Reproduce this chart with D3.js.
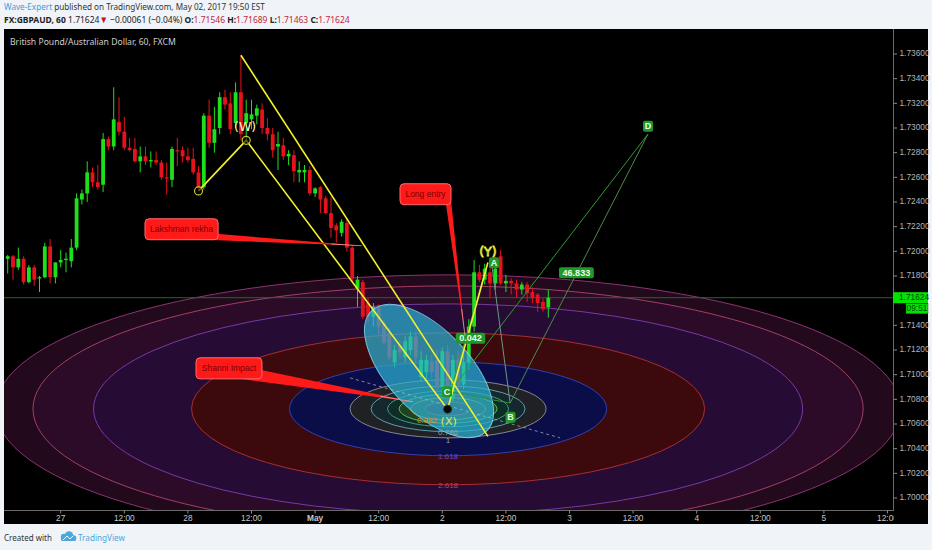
<!DOCTYPE html>
<html><head><meta charset="utf-8">
<script src="https://cdn.jsdelivr.net/npm/d3@7"></script>
<style>html,body{margin:0;padding:0;background:#f0f3f7;} svg{display:block}</style>
</head><body>
<svg id="c" width="932" height="550"></svg>
<script>
// ---------------- DATA ----------------
const firstBar = -10; // hourly bars, index 0 = Apr 27 00:00
const opens = [1.7194,1.7196,1.7187,1.7194,1.7175,1.7187,1.7178,1.7179,1.7204,1.7179,
1.7191,1.7193,1.7192,1.7203,1.7242,1.7247,1.7264,1.7256,1.7254,1.7291,
1.7285,1.7305,1.7297,1.7284,1.7283,1.7273,1.7277,1.7273,1.7274,1.7272,
1.7260,1.7258,1.7282,1.7282,1.7277,1.7275,1.7264,1.7252,1.7310,1.7288,
1.7300,1.7325,1.7320,1.7304,1.7329,1.7304,1.7307,1.7310,1.7315,1.7300,
1.7295,1.7285,1.7286,1.7277,1.7278,1.7264,1.7264,1.7266,1.7247,1.7252,
1.7243,1.7231,1.7221,1.7215,1.7223,1.7203,1.7170,1.7175,1.7158,1.7147,
1.7155,1.7142,1.7134,1.7110,1.7124,1.7114,1.7120,1.7131,1.7098,1.7102,
1.7110,1.7112,1.7090,1.7119,1.7081,1.7112,1.7092,1.7110,1.7139,1.7183,
1.7177,1.7183,1.7174,1.7196,1.7174,1.7176,1.7174,1.7169,1.7173,1.7167,
1.7165,1.7159,1.71546];
const highs = [1.7197,1.7197,1.7203,1.7196,1.7189,1.7189,1.7180,1.7207,1.7210,1.7191,
1.7201,1.7199,1.7210,1.7247,1.7250,1.7273,1.7268,1.7270,1.7296,1.7293,
1.7333,1.7325,1.7309,1.7292,1.7292,1.7285,1.7285,1.7281,1.7281,1.7274,
1.7272,1.7285,1.7292,1.7285,1.7284,1.7284,1.7269,1.7312,1.7323,1.7317,
1.7329,1.7331,1.7329,1.7337,1.7359,1.7323,1.7323,1.7319,1.7320,1.7308,
1.7300,1.7297,1.7292,1.7282,1.7282,1.7273,1.7270,1.7269,1.7252,1.7253,
1.7245,1.7244,1.7223,1.7226,1.7227,1.7205,1.7180,1.7177,1.7162,1.7158,
1.7157,1.7144,1.7138,1.7124,1.7128,1.7131,1.7135,1.7136,1.7119,1.7116,
1.7116,1.7120,1.7122,1.7124,1.7116,1.7119,1.7116,1.7145,1.7193,1.7189,
1.7190,1.7191,1.7195,1.7201,1.7181,1.7178,1.7177,1.7175,1.7175,1.7171,
1.7166,1.7162,1.71689];
const lows = [1.7182,1.7177,1.7185,1.7173,1.7174,1.7172,1.7167,1.7178,1.7174,1.7174,
1.7187,1.7183,1.7187,1.7201,1.7238,1.7240,1.7252,1.7250,1.7248,1.7282,
1.7282,1.7294,1.7282,1.7281,1.7272,1.7264,1.7270,1.7268,1.7270,1.7258,
1.7246,1.7252,1.7269,1.7272,1.7272,1.7262,1.7249,1.7250,1.7284,1.7280,
1.7295,1.7315,1.7295,1.7300,1.7290,1.7290,1.7299,1.7303,1.7295,1.7290,
1.7276,1.7266,1.7274,1.7270,1.7256,1.7256,1.7256,1.7245,1.7244,1.7231,
1.7230,1.7211,1.7207,1.7212,1.7200,1.7175,1.7155,1.7145,1.7142,1.7139,
1.7132,1.7124,1.7112,1.7106,1.7114,1.7110,1.7116,1.7110,1.7094,1.7096,
1.7097,1.7086,1.7084,1.7072,1.7078,1.7082,1.7088,1.7104,1.7135,1.7175,
1.7173,1.7162,1.7169,1.7173,1.7167,1.7165,1.7162,1.7165,1.7159,1.7158,
1.7151,1.7151,1.71463];
const closes = [1.7196,1.7187,1.7194,1.7175,1.7187,1.7177,1.7179,1.7204,1.7179,1.7191,
1.7193,1.7194,1.7203,1.7243,1.7247,1.7264,1.7256,1.7252,1.7291,1.7285,
1.7307,1.7297,1.7284,1.7282,1.7273,1.7277,1.7273,1.7274,1.7272,1.7260,
1.7259,1.7283,1.7281,1.7277,1.7274,1.7264,1.7252,1.7310,1.7288,1.7299,
1.7325,1.7319,1.7299,1.7329,1.7295,1.7312,1.7311,1.7316,1.7300,1.7295,
1.7282,1.7287,1.7277,1.7279,1.7265,1.7266,1.7266,1.7247,1.7251,1.7242,
1.7231,1.7219,1.7217,1.7224,1.7203,1.7178,1.7177,1.7147,1.7147,1.7155,
1.7139,1.7126,1.7114,1.7120,1.7118,1.7127,1.7131,1.7114,1.7112,1.7112,
1.7102,1.7089,1.7119,1.7081,1.7112,1.7092,1.7110,1.7139,1.7183,1.7177,
1.7186,1.7174,1.7186,1.7174,1.7176,1.7174,1.7169,1.7173,1.7166,1.7162,
1.7158,1.7153,1.71624];

const timeTickBars = [0,12,24,36,48,60,72,84,96,108,120,132,144,156];
const timeTickLabels = ["27","12:00","28","12:00","May","12:00","2","12:00","3","12:00","4","12:00","5","12:00"];
const priceTicks = [1.700,1.702,1.704,1.706,1.708,1.710,1.712,1.714,1.718,1.720,1.722,1.724,1.726,1.728,1.730,1.732,1.734,1.736];

const lastPrice = 1.71624;
const countdown = "09:51";

// Fib circles (centre, unit radius in bars / price)
const ringCenter = [73.09, 1.70723];
const ringUnit = [18.49, 0.002352];
const ringLevels = [4.618, 4.236, 3.618, 2.618, 1.618, 1, 0.786, 0.618, 0.5, 0.382, 0.236];
const ringFills  = ['#220a1c','#2b0b27','#260c34','#3c0a0c','#0b0d48','#202124','#14282d','#0f2d27','#1f4222','#313d1b','#3d2624'];
const ringStrokes= ['#a03c80','#b84872','#8442b8','#bc3436','#3249c8','#9a9a9a','#6fb0c0','#40b090','#60d060','#c8a040','#c05040'];
const ringLabelLevels = [2.618, 1.618, 1, 0.786, 0.382];
const ringLabelTexts  = ['2.618','1.618','1','0.786','0.382'];
const ringLabelColors = ['#c0405c','#5a4ad4','#9a9a9a','#7fa4b4','#e0902a'];

// Cyan ellipse (centre, end of major axis, minor/major ratio)
const cyanCenter = [69.5, 1.71030];
const cyanMajorEnd = [80.3, 1.70540];
const cyanRatio = 0.49;

// Yellow wave lines
const wavePath = [[26,1.7249],[35,1.7290],[73,1.7072],[80.6,1.7191]];
const channelLine = [[34,1.7359],[80.6,1.7050]];
const wavePivots = [[26,1.7249],[35,1.7290]];
const xPivot = [73,1.7072];
const waveLabelTexts = ['(W)','(Y)','(X)'];
const waveLabelPos = [[34.8,1.73002],[80.6,1.71990],[73.2,1.70618]];

// green pattern
const patternLines = [
  [[73.1,1.7084],[110.8,1.7295]],
  [[84.8,1.7077],[110.8,1.7295]],
  [[81.4,1.7187],[84.8,1.7077]],
  [[73.45,1.7085],[80.4,1.7188]],
  [[84.8,1.7077],[73.3,1.7086]]
];
const patternColors = ['#2e9a30','#4f8a4f','#6a9a80','#3aa03a','#3a8a3a'];
const patternLabelTexts = ['A','B','C','D','0.042','46.833'];
const patternLabelPos = [[81.75,1.71907],[84.87,1.70654],[72.89,1.70861],[110.81,1.73014],[77.32,1.71295],[97.3,1.71826]];
const dashedLine = [[54.6,1.70974],[94.2,1.70488]];

// red callouts: box corners, wedge base points, tip
const calloutTexts = ['Lakshman rekha','Long entry','Shanni Impact'];
const calloutBoxes = [[[15.9,1.72264],[29.7,1.72094]],[[64.02,1.72548],[73.64,1.72378]],[[25.53,1.71137],[37.98,1.70966]]];
const calloutBases = [[[27.2,1.72094],[29.3,1.72142]],[[72.7,1.72378],[73.64,1.72418]],[[33.8,1.70966],[37.6,1.71039]]];
const calloutTips = [[56.8,1.72045],[76.28,1.71315],[66.47,1.70780]];

// ---------------- DRAW ----------------
const svg = d3.select('#c');
const x = d3.scaleLinear().domain([-10.7, 157.04]).range([4, 893]);
const y = d3.scaleLinear().domain([1.700, 1.736]).range([498, 54]);
const P = p => [x(p[0]), y(p[1])];

svg.append('rect').attr('width',932).attr('height',550).attr('fill','#f0f3f7');
svg.append('rect').attr('x',4).attr('y',29).attr('width',924).attr('height',495).attr('fill','#000');
const defs = svg.append('defs');
defs.append('clipPath').attr('id','pc').append('rect').attr('x',4).attr('y',29).attr('width',889).attr('height',481);
const plot = svg.append('g').attr('clip-path','url(#pc)');

// rings
const rcx = x(ringCenter[0]), rcy = y(ringCenter[1]);
const urx = x(ringCenter[0]+ringUnit[0]) - rcx, ury = y(ringCenter[1]-ringUnit[1]) - rcy;
ringLevels.forEach((lv,i)=>{
  plot.append('ellipse').attr('cx',rcx).attr('cy',rcy).attr('rx',urx*lv).attr('ry',ury*lv).attr('fill',ringFills[i]);
});
ringLevels.forEach((lv,i)=>{
  plot.append('ellipse').attr('cx',rcx).attr('cy',rcy).attr('rx',urx*lv).attr('ry',ury*lv)
    .attr('fill','none').attr('stroke',ringStrokes[i]).attr('stroke-width',1).attr('stroke-opacity',0.85);
});

// last price line
plot.append('line').attr('x1',4).attr('x2',893).attr('y1',y(lastPrice)).attr('y2',y(lastPrice))
  .attr('stroke','#1f6a28').attr('stroke-width',1);

// candles
const bars = opens.map((o,i)=>({i:firstBar+i,o,h:highs[i],l:lows[i],c:closes[i]}));
const cg = plot.append('g');
bars.forEach(b=>{
  const col = b.c >= b.o ? '#1de01d' : '#e8121c';
  const bx = x(b.i);
  cg.append('line').attr('x1',bx).attr('x2',bx).attr('y1',y(b.h)).attr('y2',y(b.l)).attr('stroke',col).attr('stroke-width',1);
  const top = y(Math.max(b.o,b.c)), bot = y(Math.min(b.o,b.c));
  cg.append('rect').attr('x',bx-1.9).attr('width',3.8).attr('y',top).attr('height',Math.max(1,bot-top)).attr('fill',col);
});

// cyan ellipse
{
  const [ecx,ecy] = P(cyanCenter), [mx,my] = P(cyanMajorEnd);
  const a = Math.hypot(mx-ecx,my-ecy), ang = Math.atan2(my-ecy,mx-ecx)*180/Math.PI;
  plot.append('ellipse').attr('cx',ecx).attr('cy',ecy).attr('rx',a).attr('ry',a*cyanRatio)
    .attr('transform',`rotate(${ang},${ecx},${ecy})`)
    .attr('fill','rgba(45,178,212,0.72)').attr('stroke','rgba(130,215,240,0.85)').attr('stroke-width',1);
}

// dashed line
plot.append('line').attr('x1',x(dashedLine[0][0])).attr('y1',y(dashedLine[0][1])).attr('x2',x(dashedLine[1][0])).attr('y2',y(dashedLine[1][1]))
  .attr('stroke','#b0b8c8').attr('stroke-opacity',0.7).attr('stroke-dasharray','3,3');

// green pattern lines
patternLines.forEach((l,i)=>{
  plot.append('line').attr('x1',x(l[0][0])).attr('y1',y(l[0][1])).attr('x2',x(l[1][0])).attr('y2',y(l[1][1]))
   .attr('stroke',patternColors[i]).attr('stroke-width',1);
});

// yellow lines
const line = d3.line().x(d=>x(d[0])).y(d=>y(d[1]));
plot.append('path').attr('d',line(wavePath)).attr('fill','none').attr('stroke','#f2f22c').attr('stroke-width',1.6);
plot.append('path').attr('d',line(channelLine)).attr('fill','none').attr('stroke','#f2f22c').attr('stroke-width',1.6);
wavePivots.forEach(p=>{
  plot.append('circle').attr('cx',x(p[0])).attr('cy',y(p[1])).attr('r',4).attr('fill','#000').attr('fill-opacity',0.6).attr('stroke','#c8c82a').attr('stroke-width',1.2);
});
plot.append('circle').attr('cx',x(xPivot[0])).attr('cy',y(xPivot[1])).attr('r',4).attr('fill','#080808').attr('stroke','#303020').attr('stroke-width',1);

// ring labels
ringLabelLevels.forEach((lv,i)=>{
  const t = plot.append('text').attr('y',rcy+ury*lv+(lv===1?3:1)).attr('dominant-baseline','middle')
   .attr('font-family','Liberation Sans, Arial, sans-serif').attr('font-size',8).attr('fill',ringLabelColors[i]).text(ringLabelTexts[i]);
  if (lv===0.382) t.attr('x',rcx-11).attr('text-anchor','end');
  else t.attr('x',rcx).attr('text-anchor','middle');
});

// wave labels
waveLabelTexts.forEach((t,i)=>{
  const [lx,ly] = P(waveLabelPos[i]);
  const tx = plot.append('text').attr('x',lx).attr('y',ly).attr('text-anchor','middle').attr('dominant-baseline','middle')
    .attr('font-family','DejaVu Sans, sans-serif').attr('font-size',i===2?11:12.5).text(t);
  if (i===0) tx.attr('fill','#fffbb8');
  else if (i===1) tx.attr('fill','none').attr('stroke','#f0f040').attr('stroke-width',0.9);
  else tx.attr('fill','#e4e450');
});

// pattern labels
patternLabelTexts.forEach((t,i)=>{
  const [lx,ly] = P(patternLabelPos[i]);
  const w = t.length===1 ? 10 : t.length*5.3+3;
  plot.append('rect').attr('x',lx-w/2).attr('y',ly-5.5).attr('width',w).attr('height',11).attr('rx',2)
    .attr('fill','#1f9a28');
  plot.append('text').attr('x',lx).attr('y',ly+0.5).attr('text-anchor','middle').attr('dominant-baseline','middle')
    .attr('font-family','Liberation Sans, Arial, sans-serif').attr('font-size',9).attr('font-weight','bold').attr('fill','#eaffea').text(t);
});

// callouts
calloutTexts.forEach((t,i)=>{
  const [b0,b1] = calloutBoxes[i];
  const x0=x(b0[0]), y0=y(b0[1]), x1=x(b1[0]), y1=y(b1[1]);
  const base = calloutBases[i].map(P), tip = P(calloutTips[i]);
  plot.append('path').attr('d',`M${base[0][0]},${base[0][1]}L${base[1][0]},${base[1][1]}L${tip[0]},${tip[1]}Z`).attr('fill','#ff1a1a');
  const mid=[(base[0][0]+base[1][0])/2,(base[0][1]+base[1][1])/2];
  plot.append('line').attr('x1',mid[0]+(tip[0]-mid[0])*0.8).attr('y1',mid[1]+(tip[1]-mid[1])*0.8).attr('x2',tip[0]).attr('y2',tip[1])
    .attr('stroke','#f4c8c8').attr('stroke-width',0.8).attr('stroke-opacity',0.8);
  plot.append('rect').attr('x',x0).attr('y',y0).attr('width',x1-x0).attr('height',y1-y0).attr('rx',4)
    .attr('fill','#ff1a1a').attr('stroke','#ff6a6a').attr('stroke-width',1);
  plot.append('text').attr('x',(x0+x1)/2).attr('y',(y0+y1)/2+0.5).attr('text-anchor','middle').attr('dominant-baseline','middle')
    .attr('font-family','Liberation Sans, Arial, sans-serif').attr('font-size',8.5).attr('fill','#7a0000').text(t);
});

// axes frame
svg.append('line').attr('x1',893.5).attr('x2',893.5).attr('y1',29).attr('y2',510).attr('stroke','#6a6a6a');
svg.append('line').attr('x1',4).attr('x2',894).attr('y1',510.5).attr('y2',510.5).attr('stroke','#6a6a6a');

// price axis
priceTicks.forEach(p=>{
  const py = y(p);
  svg.append('line').attr('x1',893.5).attr('x2',897).attr('y1',py).attr('y2',py).attr('stroke','#8a8a8a');
  svg.append('text').attr('x',899.5).attr('y',py).attr('dominant-baseline','middle')
    .attr('font-family','Liberation Sans, Arial, sans-serif').attr('font-size',8.3).attr('fill','#b4b4b4').text(p.toFixed(5));
});
{
  const py = y(lastPrice);
  svg.append('rect').attr('x',893).attr('y',py-5.5).attr('width',35).attr('height',11).attr('fill','#00e400');
  svg.append('text').attr('x',899).attr('y',py+0.5).attr('dominant-baseline','middle')
    .attr('font-family','Liberation Sans, Arial, sans-serif').attr('font-size',8.3).attr('fill','#0a3a0a').text(lastPrice.toFixed(5));
  svg.append('rect').attr('x',906).attr('y',py+6).attr('width',22).attr('height',10).attr('fill','#00e400')
    .attr('stroke','#0a5a0a').attr('stroke-dasharray','1,1').attr('stroke-width',0.8);
  svg.append('text').attr('x',917).attr('y',py+11.5).attr('text-anchor','middle').attr('dominant-baseline','middle')
    .attr('font-family','Liberation Sans, Arial, sans-serif').attr('font-size',8.3).attr('fill','#0a3a0a').text(countdown);
}

// time axis
timeTickBars.forEach((b,i)=>{
  const tx = x(b);
  svg.append('line').attr('x1',tx).attr('x2',tx).attr('y1',510.5).attr('y2',513.5).attr('stroke','#8a8a8a');
  svg.append('text').attr('x',tx).attr('y',519).attr('text-anchor','middle').attr('dominant-baseline','middle')
    .attr('font-family','Liberation Sans, Arial, sans-serif').attr('font-size',8.3)
    .attr('font-weight', timeTickLabels[i]==='May' ? 'bold':'normal')
    .attr('fill','#c8c8c8').text(timeTickLabels[i]);
});
svg.append('rect').attr('x',894).attr('y',511).attr('width',34).attr('height',13).attr('fill','#000');

function fitText(sel, target){
  const w = sel.node().getComputedTextLength();
  const x0 = +sel.attr('x'), y0 = +sel.attr('y');
  sel.attr('transform',`translate(${x0},${y0}) scale(${target/w},1) translate(${-x0},${-y0})`);
}

// title inside chart
const title = svg.append('text').attr('x',10).attr('y',45).attr('font-family','Noto Sans, Open Sans, sans-serif').attr('font-size',9.5)
  .attr('fill','#cfcfcf').text('British Pound/Australian Dollar, 60, FXCM');
fitText(title, 166);

// header
const h1 = svg.append('text').attr('x',4).attr('y',10.5).attr('font-family','Noto Sans, Open Sans, sans-serif').attr('font-size',9.5).attr('fill','#333');
h1.append('tspan').attr('fill','#3fa0dc').text('Wave-Expert');
h1.append('tspan').text(' published on TradingView.com, May 02, 2017 19:50 EST');
fitText(h1, 261);
const h2 = svg.append('text').attr('x',4).attr('y',23.5).attr('font-family','Noto Sans, Open Sans, sans-serif').attr('font-size',9.5).attr('fill','#222');
h2.append('tspan').attr('font-weight','bold').text('FX:GBPAUD, 60');
h2.append('tspan').text(' 1.71624');
h2.append('tspan').attr('fill','#c8101c').text('▼');
h2.append('tspan').text(' −0.00061 (−0.04%) ');
[['O:','1.71546'],['H:','1.71689'],['L:','1.71463'],['C:','1.71624']].forEach((d,i)=>{
  h2.append('tspan').attr('font-weight','bold').text((i?' ':'')+d[0]);
  h2.append('tspan').attr('fill','#c0283a').text(d[1]);
});
fitText(h2, 346);

// footer
const f = svg.append('text').attr('x',4).attr('y',541).attr('font-family','Noto Sans, Open Sans, sans-serif').attr('font-size',9.5).attr('fill','#333').text('Created with');
fitText(f, 48);
const cloud = svg.append('g').attr('fill','#4aa8dc');
cloud.append('circle').attr('cx',64).attr('cy',537).attr('r',3.2);
cloud.append('circle').attr('cx',69).attr('cy',535.5).attr('r',4.2);
cloud.append('circle').attr('cx',73.5).attr('cy',538).attr('r',2.8);
cloud.append('rect').attr('x',61).attr('y',537.5).attr('width',15).attr('height',3.5).attr('rx',1.5);
cloud.append('path').attr('d','M63,540 L67,536 L70,539 L73,536').attr('stroke','#fff').attr('stroke-width',0.9).attr('fill','none');
const tv = svg.append('text').attr('x',78).attr('y',541).attr('font-family','Noto Sans, Open Sans, sans-serif').attr('font-size',9.5).attr('fill','#4aa8dc').text('TradingView');
fitText(tv, 47);
</script>
</body></html>
